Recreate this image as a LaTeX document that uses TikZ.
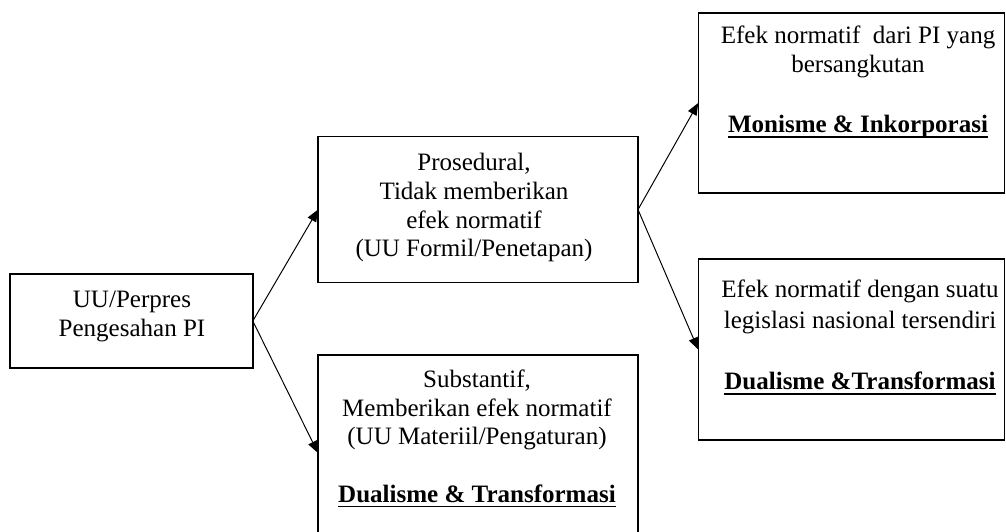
\documentclass[tikz,border=0pt]{standalone}
\usepackage{fontspec}
\setmainfont{Liberation Serif}
\usetikzlibrary{arrows.meta}
\newcommand{\garisbawah}[1]{\sbox0{#1}\rlap{\rule[-3.75pt]{\wd0}{1.4pt}}\usebox0}

\begin{document}
\begin{tikzpicture}
\tikzstyle{every node}=[font=\fontsize{17.8}{20.4}\selectfont]
\tikzstyle{kotak}=[draw,line width=1pt,inner sep=0pt,outer sep=0pt]
\tikzstyle{teks}=[align=center,anchor=north,inner sep=0pt]
\tikzstyle{panah}=[draw,line width=0.7pt,-{Triangle[length=3mm,width=2.4mm]}]
\useasboundingbox (0,0) rectangle (25.15,-13.275);

\node at (3.285,-8.025) [kotak,minimum width=6.07cm,minimum height=2.35cm](u0) {};
\node at (11.95,-5.24) [kotak,minimum width=8cm,minimum height=3.65cm](p1) {};
\node at (11.95,-11.325) [kotak,minimum width=8cm,minimum height=4.9cm](s1) {};
\node at (21.28,-2.575) [kotak,minimum width=7.65cm,minimum height=4.5cm](m2) {};
\node at (21.28,-8.74) [kotak,minimum width=7.65cm,minimum height=4.525cm](d2) {};

\node at (3.3,-7.275) [teks](t0) {UU/Perpres\\Pengesahan PI};
\node at (11.85,-3.825) [teks](t1) {Prosedural,\\Tidak memberikan\\efek normatif\\(UU Formil/Penetapan)};
\node at (11.925,-9.24) [teks](t2) {Substantif,\\Memberikan efek normatif\\(UU Materiil/Pengaturan)\\[20.4pt]
  \textbf{\garisbawah{Dualisme \& Transformasi}}};
\node at (21.45,-0.64) [teks](t3) {Efek normatif\ \ dari PI yang\\bersangkutan\\[22.5pt]
  \textbf{\garisbawah{Monisme \& Inkorporasi}}};
\node at (21.5,-7.0) [teks,font=\fontsize{17.8}{21.8}\selectfont](t4) {Efek normatif dengan suatu\\legislasi nasional tersendiri\\[21.8pt]
  \textbf{\garisbawah{Dualisme \&Transformasi}}};

\path [panah] (u0.east) -- (p1.west);
\path [panah] (u0.east) -- (s1.west);
\path [panah] (p1.east) -- (m2.west);
\path [panah] (p1.east) -- (d2.west);

\end{tikzpicture}
\end{document}
